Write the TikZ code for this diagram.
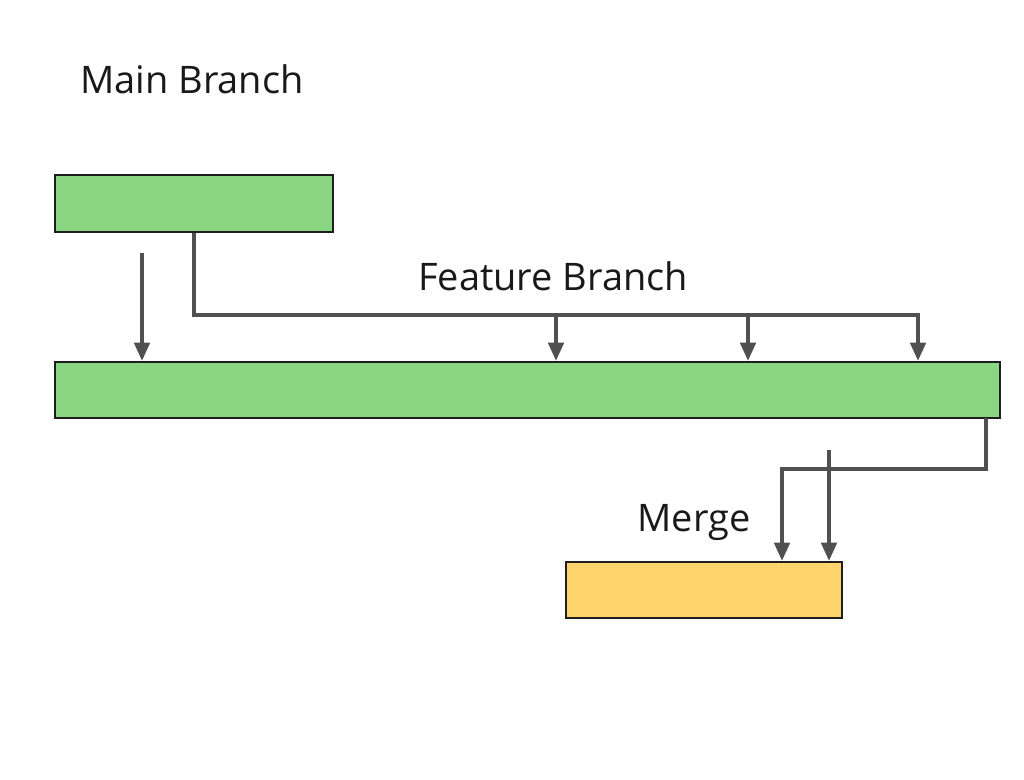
\documentclass[tikz,border=0pt]{standalone}
\usepackage{fontspec}
\setmainfont{Open Sans}
\usetikzlibrary{arrows.meta}

\definecolor{branchgreen}{RGB}{138,213,129}
\definecolor{mergeyellow}{RGB}{253,212,107}
\definecolor{linegray}{RGB}{80,80,80}
\definecolor{edgedark}{RGB}{30,30,30}

\tikzset{
  branchbox/.style={draw=edgedark, line width=1.6pt, fill=branchgreen, inner sep=0pt},
  mergebox/.style={draw=edgedark, line width=1.6pt, fill=mergeyellow, inner sep=0pt},
  label/.style={font=\fontsize{27}{32}\selectfont, text=black!90},
  flow/.style={draw=linegray, line width=2.5pt, -{Triangle[length=13pt,width=11pt]}},
  rail/.style={draw=linegray, line width=2.5pt}
}

\begin{document}
\begin{tikzpicture}[x=0.025cm, y=-0.025cm]

   \useasboundingbox [fill=white] (0,0) rectangle (1024,780);

   \node (MainLabel) at (192,79) [label] {Main Branch};
   \node (FeatureLabel) at (553,276) [label] {Feature Branch};
   \node (MergeLabel) at (694,523) [label] {Merge};

   \node (MainBox) at (194,203.5) [branchbox, minimum width=6.95cm, minimum height=1.425cm] {};
   \node (FeatureBox) at (527.5,390) [branchbox, minimum width=23.625cm, minimum height=1.4cm] {};
   \node (MergeBox) at (704,590) [mergebox, minimum width=6.9cm, minimum height=1.4cm] {};

   \coordinate (MainStart) at (142,253);
   \coordinate (RailEnd) at (918,315);
   \coordinate (DropA) at (556,315);
   \coordinate (DropB) at (748,315);
   \coordinate (FeatureOut) at (986,418);
   \coordinate (MergeBend) at (782,469);
   \coordinate (MergeStart) at (829,450);

   \draw [flow] (MainStart) -- (MainStart |- FeatureBox.north);
   \draw [flow] (MainBox.south) |- (RailEnd) -- (RailEnd |- FeatureBox.north);
   \draw [flow] (DropA) -- (DropA |- FeatureBox.north);
   \draw [flow] (DropB) -- (DropB |- FeatureBox.north);

   \draw [flow] (FeatureOut) |- (MergeBend) -- (MergeBend |- MergeBox.north);
   \draw [flow] (MergeStart) -- (MergeStart |- MergeBox.north);

\end{tikzpicture}
\end{document}
